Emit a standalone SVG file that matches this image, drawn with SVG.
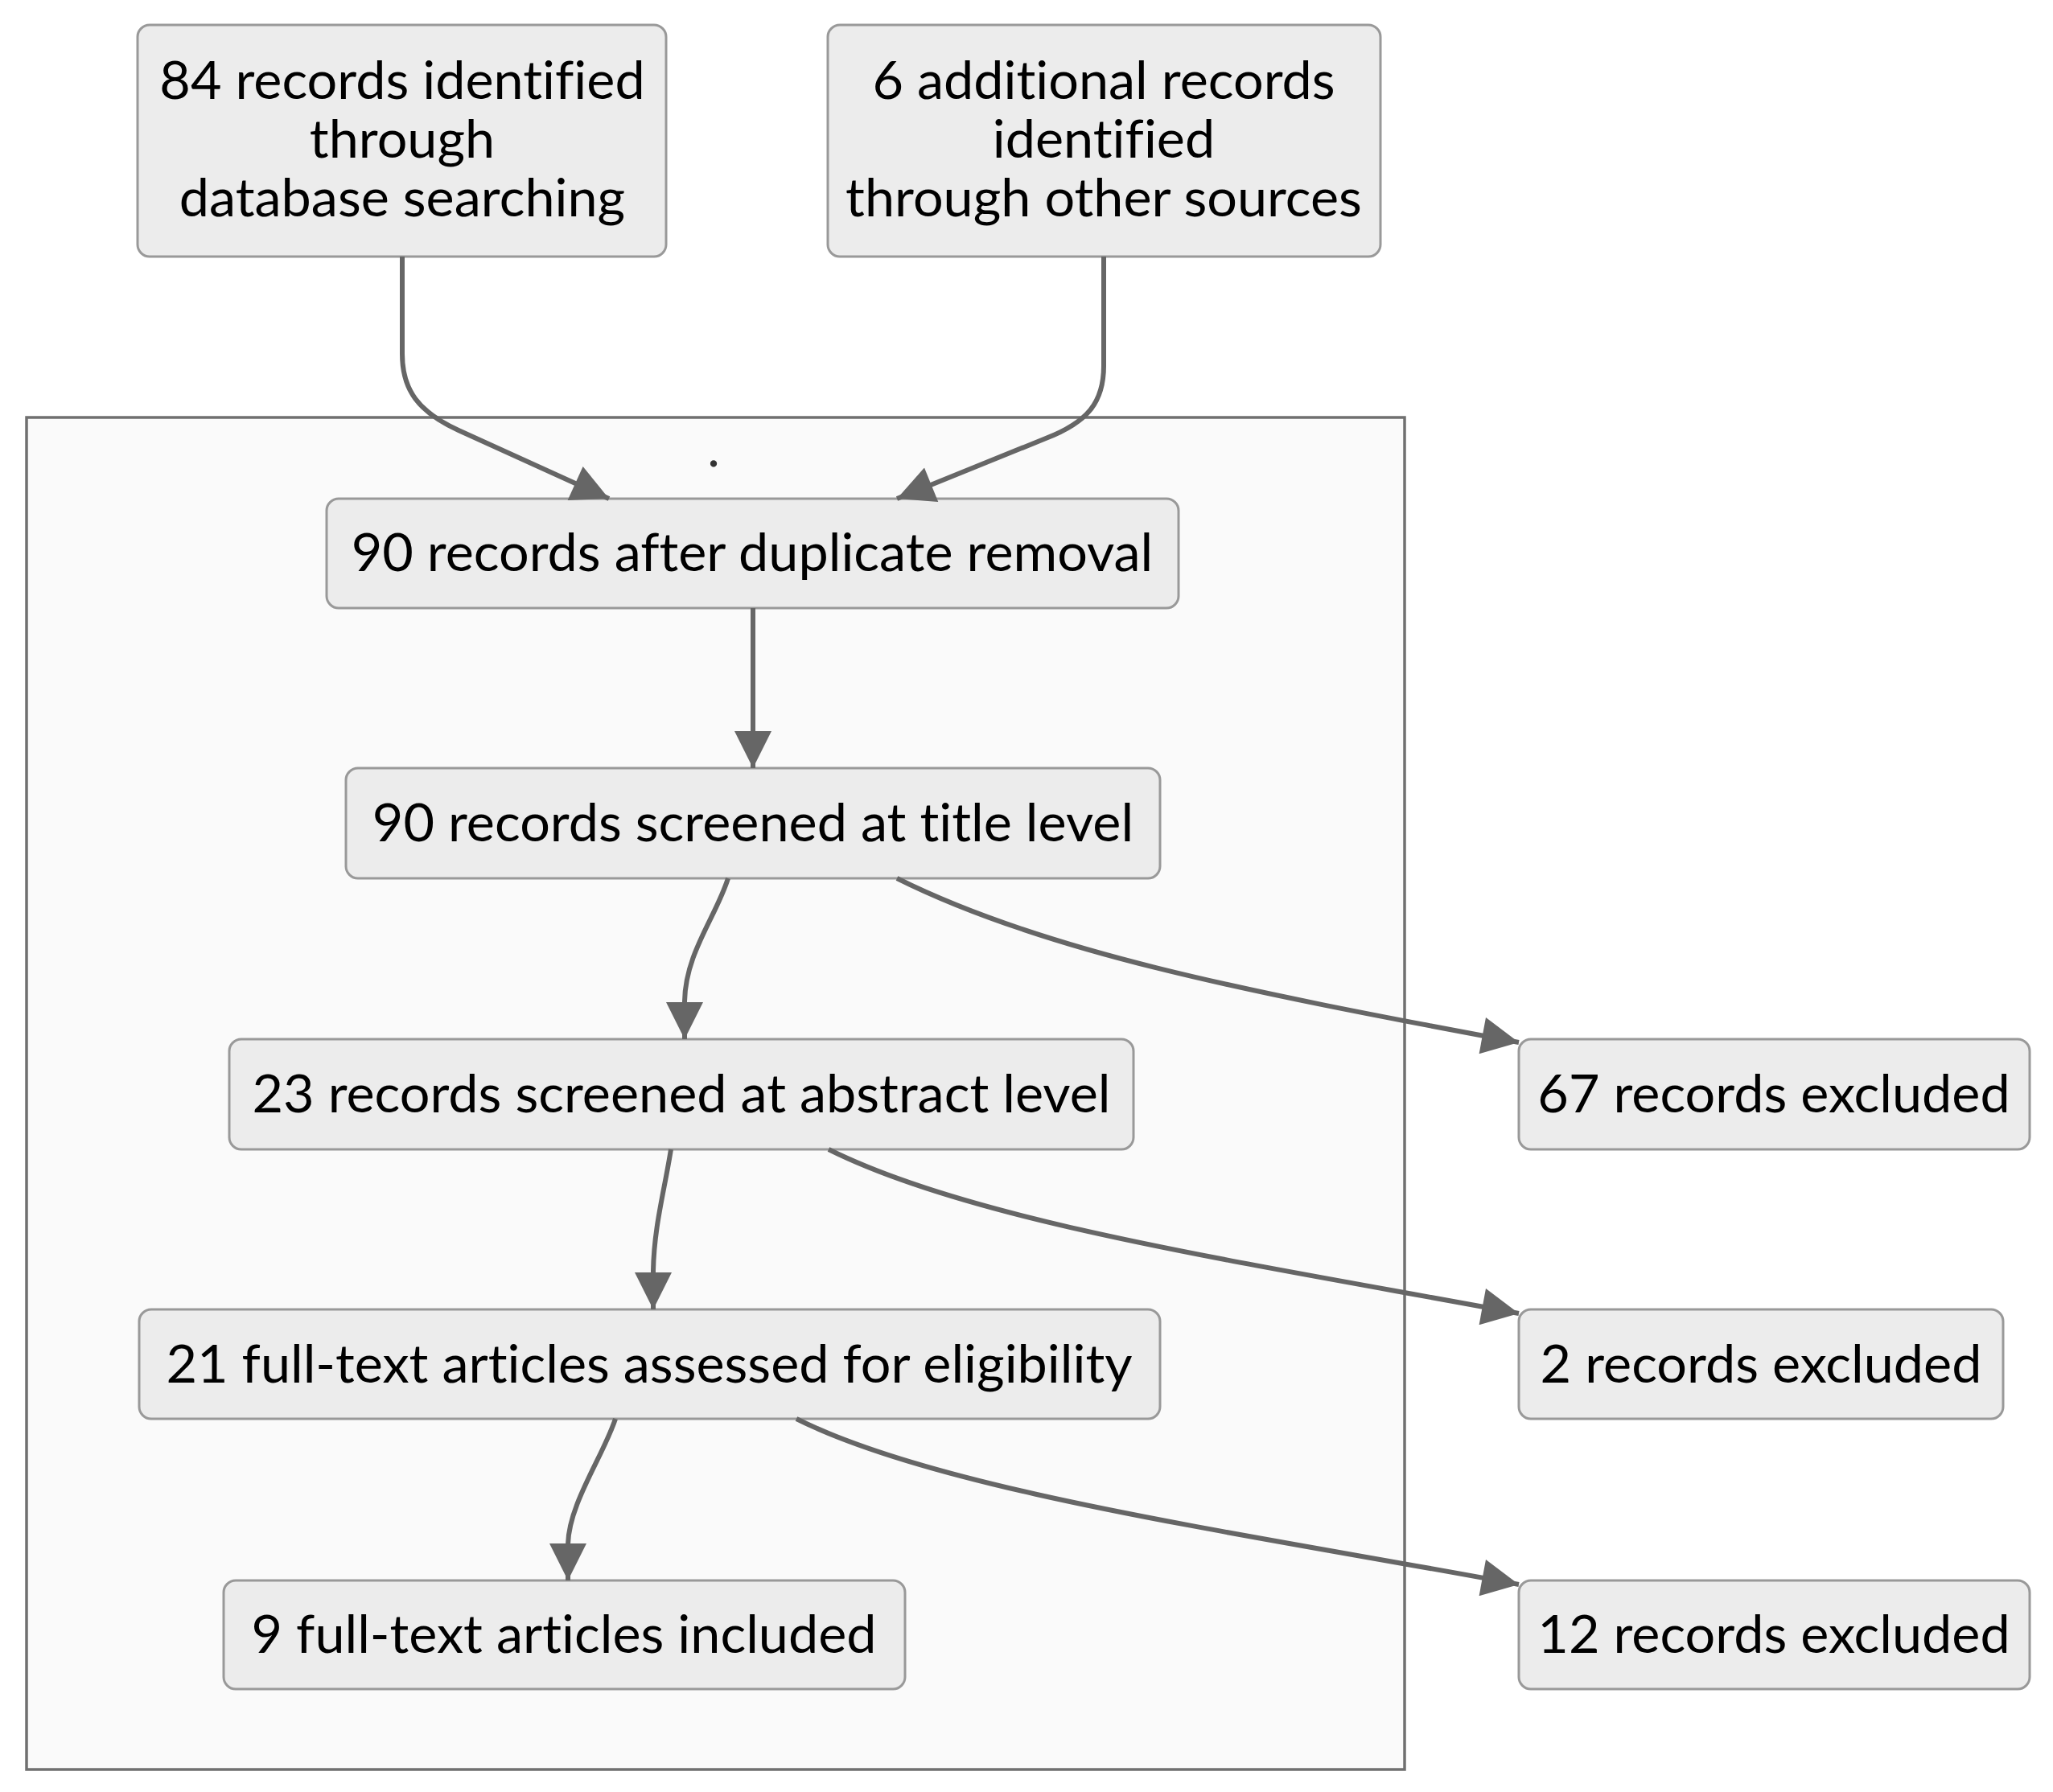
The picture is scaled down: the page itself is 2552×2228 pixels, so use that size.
<svg xmlns="http://www.w3.org/2000/svg" width="2552" height="2228" viewBox="0 0 2552 2228">
<style>
.node rect{fill:#ececec;stroke:#999;stroke-width:3}
.node text{font-family:Lato,"Open Sans","DejaVu Sans",sans-serif;font-size:66.5px;fill:#000;text-anchor:middle;font-variant-ligatures:none;font-feature-settings:"liga" 0}
.edge{fill:none;stroke:#666;stroke-width:6}
.cluster rect{fill:#fafafa;stroke:#707070;stroke-width:3.5}
.cluster text{font-family:Lato,"DejaVu Sans",sans-serif;font-size:66px;fill:#333;text-anchor:middle}
</style>
<defs>
<marker id="arr" viewBox="0 0 10 10" refX="10" refY="5" markerUnits="userSpaceOnUse" markerWidth="48" markerHeight="46" orient="auto">
<path d="M0,0 L10,5 L0,10 z" fill="#666"/>
</marker>
</defs>
<rect width="2552" height="2228" fill="#fff"/>
<g id="cluster" class="cluster">
<rect x="33" y="519" width="1713" height="1681"/>
<text x="887" y="580">.</text>
</g>
<g id="nodeA" class="node">
<rect x="171" y="31" width="657" height="288" rx="15"/>
<text x="500" y="123">84 records identified</text>
<text x="500" y="196">through</text>
<text x="500" y="269">database searching</text>
</g>
<g id="nodeB" class="node">
<rect x="1029" y="31" width="687" height="288" rx="15"/>
<text x="1372" y="123">6 additional records</text>
<text x="1372" y="196">identified</text>
<text x="1372" y="269">through other sources</text>
</g>
<g id="nodeC" class="node">
<rect x="406" y="620" width="1059" height="136" rx="15"/>
<text x="935" y="710">90 records after duplicate removal</text>
</g>
<g id="nodeD" class="node">
<rect x="430" y="955" width="1012" height="137" rx="15"/>
<text x="936" y="1046">90 records screened at title level</text>
</g>
<g id="nodeE" class="node">
<rect x="285" y="1292" width="1124" height="137" rx="15"/>
<text x="847" y="1383">23 records screened at abstract level</text>
</g>
<g id="nodeF" class="node">
<rect x="173" y="1628" width="1269" height="136" rx="15"/>
<text x="807" y="1719">21 full-text articles assessed for eligibility</text>
</g>
<g id="nodeG" class="node">
<rect x="278" y="1965" width="847" height="135" rx="15"/>
<text x="701" y="2055">9 full-text articles included</text>
</g>
<g id="nodeX1" class="node">
<rect x="1888" y="1292" width="635" height="137" rx="15"/>
<text x="2205" y="1383">67 records excluded</text>
</g>
<g id="nodeX2" class="node">
<rect x="1888" y="1628" width="602" height="136" rx="15"/>
<text x="2189" y="1719">2 records excluded</text>
</g>
<g id="nodeX3" class="node">
<rect x="1888" y="1965" width="635" height="135" rx="15"/>
<text x="2205" y="2055">12 records excluded</text>
</g>
<g id="connectors">
<path class="edge" marker-end="url(#arr)" d="M500,319 L500,440 C500,485 520,512 570,535 L757,620"/>
<path class="edge" marker-end="url(#arr)" d="M1372,319 L1372,455 C1372,500 1352,525 1300,545 L1115,620"/>
<path class="edge" marker-end="url(#arr)" d="M936,756 L936,955"/>
<path class="edge" marker-end="url(#arr)" d="M905,1092 C890,1140 852,1185 851,1245 L851,1292"/>
<path class="edge" marker-end="url(#arr)" d="M1115,1092 C1295,1182 1538,1231 1888,1296"/>
<path class="edge" marker-end="url(#arr)" d="M834,1429 C826,1480 813,1525 812,1580 L812,1628"/>
<path class="edge" marker-end="url(#arr)" d="M1030,1429 C1210,1519 1538,1568 1888,1633"/>
<path class="edge" marker-end="url(#arr)" d="M765,1764 C750,1810 707,1870 706,1920 L706,1965"/>
<path class="edge" marker-end="url(#arr)" d="M990,1764 C1170,1854 1538,1905 1888,1970"/>
</g>
</svg>
